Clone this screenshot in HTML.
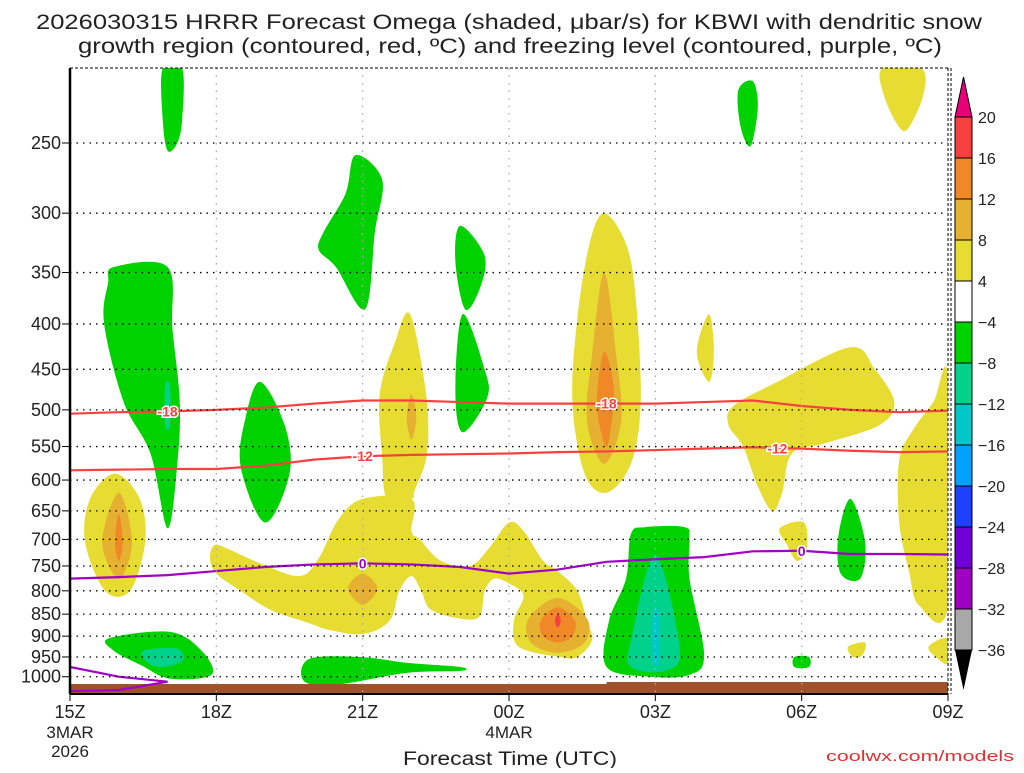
<!DOCTYPE html>
<html><head><meta charset="utf-8"><style>
body{margin:0;background:#fff;}
svg text{font-family:"Liberation Sans",sans-serif;}
</style></head><body>
<svg id="c" width="1024" height="768" xmlns="http://www.w3.org/2000/svg">
<text x="36" y="29" textLength="946" lengthAdjust="spacingAndGlyphs" font-size="21" fill="#222">2026030315 HRRR Forecast Omega (shaded, μbar/s) for KBWI with dendritic snow</text>
<text x="78" y="53" textLength="864" lengthAdjust="spacingAndGlyphs" font-size="21" fill="#222">growth region (contoured, red, ºC) and freezing level (contoured, purple, ºC)</text>
<g id="plot"></g>
<text x="403" y="765" textLength="214" lengthAdjust="spacingAndGlyphs" font-size="19" fill="#222">Forecast Time (UTC)</text>
<text x="826" y="761" textLength="188" lengthAdjust="spacingAndGlyphs" font-size="15" fill="#e03030">coolwx.com/models</text>
</svg>
<script>
const pressureTicks=[250,300,350,400,450,500,550,600,650,700,750,800,850,900,950,1000];
const timeTicks=[0,3,6,9,12,15,18];
const timeLabels=["15Z","18Z","21Z","00Z","03Z","06Z","09Z"];
const cbLevels=["20","16","12","8","4","−4","−8","−12","−16","−20","−24","−28","−32","−36"];
const cbColors=["#f84040","#f08828","#e6b030","#e6dc32","#ffffff","#00d200","#00d28c","#00c8c8","#00a0ff","#2040ff","#7000d8","#a000c0","#a8a8a8"];
const dgzMinus18=[505,503,502,500,497,492,488,488,490,492,492,492,492,490,488,495,500,503,501];
const dgzMinus12=[585,584,583,583,578,569,564,562,561,560,558,557,555,553,551,553,556,558,557];
const freezing0=[775,772,768,760,752,747,745,747,752,765,757,742,737,733,722,721,727,727,728];
const freezing0b=[[0,975],[1,1000],[2,1013],[1,1035],[0,1038]];
const greenAreas=[
[[1.9,206],[2.3,206],[2.3,235],[2.2,250],[2.0,255],[1.9,235]],
[[0.9,345],[2.0,345],[2.1,405],[2.25,490],[2.2,575],[2.0,680],[1.65,560],[1.1,490],[0.7,400],[0.78,360]],
[[3.9,465],[4.4,520],[4.5,590],[4.0,670],[3.5,580],[3.6,510]],
[[5.85,258],[6.4,275],[6.25,315],[6.05,385],[5.45,345],[5.1,330],[5.2,315],[5.65,285]],
[[8.0,310],[8.5,335],[8.4,365],[8.1,385],[7.9,340]],
[[8.05,390],[8.5,450],[8.55,485],[8.05,530],[7.9,475]],
[[13.7,218],[14.0,213],[14.1,228],[13.95,252],[13.75,240]],
[[16.0,630],[16.3,705],[16.2,775],[15.8,765],[15.75,695]],
[[14.85,950],[15.15,950],[15.15,975],[14.85,975]],
[[0.8,905],[2.05,890],[2.7,935],[2.9,995],[2.05,1005],[1.45,970],[0.9,935]],
[[4.9,955],[5.95,950],[6.95,965],[8.0,975],[8.0,985],[6.9,990],[5.5,1020],[4.8,1012]],
[[11.5,690],[11.8,678],[12.6,678],[12.7,700],[12.7,775],[13.0,945],[12.7,995],[11.9,1000],[11.0,975],[11.05,865],[11.4,775]]];
const tealAreas=[
[[1.95,470],[2.05,470],[2.05,520],[1.95,520]],
[[1.5,935],[2.2,930],[2.3,960],[1.9,975],[1.6,965]],
[[12.0,730],[12.5,930],[12.2,985],[11.5,975],[11.5,910]]];
const cyanAreas=[[[11.95,850],[12.08,850],[12.08,960],[11.95,960]]];
const yellowAreas=[
[[0.92,590],[1.43,630],[1.54,705],[1.23,800],[0.72,800],[0.31,705],[0.41,630]],
[[6.97,390],[7.3,480],[7.32,560],[7.07,615],[7.0,630],[6.5,630],[6.4,565],[6.35,480],[6.66,420]],
[[6.0,630],[7.0,630],[7.0,685],[7.17,700],[7.6,740],[8.2,750],[8.6,715],[9.0,670],[9.3,685],[9.7,740],[10.0,760],[10.4,800],[10.6,865],[10.7,910],[10.4,950],[10.05,950],[9.2,925],[9.1,865],[9.3,810],[9.0,785],[8.7,775],[8.5,800],[8.4,855],[8.0,860],[7.4,840],[7.2,800],[7.0,770],[6.75,800],[6.55,865],[6.0,895],[5.3,885],[4.9,870],[4.1,840],[3.5,800],[3.0,765],[2.87,735],[2.97,710],[3.3,720],[3.9,745],[4.7,770],[5.1,735],[5.5,665]],
[[10.95,300],[11.4,325],[11.6,375],[11.7,490],[11.5,575],[11.0,620],[10.55,590],[10.3,490],[10.4,395],[10.65,325]],
[[13.1,390],[13.2,430],[13.1,465],[12.85,430]],
[[13.6,495],[14.5,465],[16.0,425],[16.5,450],[16.9,490],[16.6,520],[15.5,545],[14.8,560],[14.6,620],[14.4,650],[14.1,610],[13.8,550],[13.5,520]],
[[18,460],[18,830],[17.4,830],[17.2,760],[17.0,670],[17.0,570],[17.3,525],[17.7,490]],
[[16.65,206],[17.45,206],[17.5,220],[17.2,240],[17.0,240],[16.7,222]],
[[14.55,680],[15.05,670],[15.1,720],[14.9,740],[14.7,710]],
[[15.95,925],[16.3,915],[16.25,945],[16.05,950]],
[[17.6,925],[18,905],[18,965],[17.8,955]]];
const goldAreas=[
[[1.0,620],[1.27,705],[1.0,775],[0.66,705]],
[[7.0,480],[7.1,510],[7.0,540],[6.9,510]],
[[6.0,765],[6.3,795],[6.0,830],[5.7,795]],
[[10.0,815],[10.6,860],[10.55,915],[10.0,940],[9.45,915],[9.4,860]],
[[10.95,350],[11.2,435],[11.3,515],[10.95,575],[10.6,515],[10.7,435]]];
const orangeAreas=[
[[1.0,655],[1.08,705],[1.0,740],[0.92,705]],
[[10.0,835],[10.35,865],[10.3,900],[10.0,915],[9.7,900],[9.65,865]],
[[10.95,430],[11.15,475],[11.05,540],[10.95,545],[10.8,490]]];
const redAreas=[[[10.0,850],[10.06,865],[10.0,880],[9.94,865]]];

const NS="http://www.w3.org/2000/svg";
const X0=70,X1=948,YT=68,YB=694;
function xs(h){return X0+h*(X1-X0)/18;}
function ys(p){return 143+Math.log(p/250)*385;}
const plot=document.getElementById('plot');
function mk(t,a,parent){const e=document.createElementNS(NS,t);for(const k in a)e.setAttribute(k,a[k]);(parent||plot).appendChild(e);return e;}
const defs=mk('defs',{});
const cp=mk('clipPath',{id:'clip'},defs);mk('rect',{x:X0,y:YT,width:X1-X0,height:YB-YT},cp);
const field=mk('g',{'clip-path':'url(#clip)'});
function smooth(pts){const P=pts.map(q=>[xs(q[0]),ys(q[1])]);const n=P.length;let d=`M${P[0][0]},${P[0][1]}`;
for(let i=0;i<n;i++){const p0=P[(i-1+n)%n],p1=P[i],p2=P[(i+1)%n],p3=P[(i+2)%n];
d+=`C${p1[0]+(p2[0]-p0[0])/6},${p1[1]+(p2[1]-p0[1])/6} ${p2[0]-(p3[0]-p1[0])/6},${p2[1]-(p3[1]-p1[1])/6} ${p2[0]},${p2[1]}`;}return d+'Z';}
function drawAreas(list,color,name){list.forEach(a=>{const e=mk('path',{d:smooth(a),fill:color},field);

});}
drawAreas(greenAreas,'#00d200','omega-area-green');
drawAreas(tealAreas,'#00d28c','omega-area-teal');
drawAreas(cyanAreas,'#00c8c8','omega-area-cyan');
drawAreas(yellowAreas,'#e6dc32','omega-area-yellow');
drawAreas(goldAreas,'#e6b030','omega-area-gold');
drawAreas(orangeAreas,'#f08828','omega-area-orange');
drawAreas(redAreas,'#f84040','omega-area-red');
pressureTicks.forEach(p=>{const y=ys(p);const g=mk('line',{x1:X0,x2:X1,y1:y,y2:y,stroke:'#000','stroke-width':1.3,'stroke-dasharray':'1.5 5'});


mk('line',{x1:X0-8,x2:X0,y1:y,y2:y,stroke:'#000','stroke-width':1});
const t=mk('text',{x:X0-9,y:y+6,'text-anchor':'end','font-size':18,fill:'#222'});t.textContent=p;

});
timeTicks.forEach((h,i)=>{const x=xs(h);if(i>0&&i<6){mk('line',{x1:x,x2:x,y1:YT,y2:YB,stroke:'#aaa','stroke-width':1.3,'stroke-dasharray':'1.5 6'});}
mk('line',{x1:x,x2:x,y1:YB,y2:YB+7,stroke:'#000'});
const t=mk('text',{x:x,y:718,'text-anchor':'middle','font-size':18,fill:'#222'});t.textContent=timeLabels[i];

});
[['3MAR',0,738],['2026',0,757],['4MAR',9,738]].forEach(s=>{const t=mk('text',{x:xs(s[1]),y:s[2],'text-anchor':'middle','font-size':17,fill:'#222'});t.textContent=s[0];

});
const gr=mk('path',{d:`M${X0},684 H${xs(11)} V682 H${X1} V${YB} H${X0}Z`,fill:'#a0522d'},field);


function line(vals,color,name){const d=vals.map((p,i)=>(i?'L':'M')+xs(i)+','+ys(p)).join('');const e=mk('path',{d:d,fill:'none',stroke:color,'stroke-width':2.2},field);

}
line(dgzMinus18,'#f84040','contour-minus18');
line(dgzMinus12,'#f84040','contour-minus12');
line(freezing0,'#a000c8','freezing-level-0');
const fb=mk('path',{d:freezing0b.map((q,i)=>(i?'L':'M')+xs(q[0])+','+ys(q[1])).join(''),fill:'none',stroke:'#a000c8','stroke-width':2.2},field);


function clabel(h,vals,txt,color){const x=xs(h),y=ys(vals[Math.round(h)]);
const t=mk('text',{x:x,y:y+5,'text-anchor':'middle','font-size':14,'font-weight':'bold',fill:color,stroke:'#fff','stroke-width':3,'paint-order':'stroke'});t.textContent=txt;

}
clabel(2,dgzMinus18,'-18','#f84040');clabel(11,dgzMinus18,'-18','#f84040');
clabel(6,dgzMinus12,'-12','#f84040');clabel(14.5,dgzMinus12,'-12','#f84040');
clabel(6,freezing0,'0','#a000c8');clabel(15,freezing0,'0','#a000c8');
mk('line',{x1:X0,x2:X0,y1:YT,y2:YB,stroke:'#000','stroke-width':2.5});
mk('line',{x1:X0,x2:X1,y1:YB,y2:YB,stroke:'#000','stroke-width':2});
mk('line',{x1:X0,x2:X1,y1:YT,y2:YT,stroke:'#000','stroke-width':1,'stroke-dasharray':'3 2'});
mk('line',{x1:X1,x2:X1,y1:YT,y2:YB,stroke:'#000','stroke-width':1,'stroke-dasharray':'3 2'});
mk('line',{x1:X1+3,x2:X1+3,y1:YT,y2:YB,stroke:'#000','stroke-width':1,'stroke-dasharray':'3 2'});
const cb=mk('g',{});
const CX=955,CW=17,CT=117,CH=41;
mk('path',{d:`M${CX},${CT} L${CX+CW/2},77 L${CX+CW},${CT}Z`,fill:'#e8007a',stroke:'#000'},cb);
cbColors.forEach((c,i)=>{mk('rect',{x:CX,y:CT+i*CH,width:CW,height:CH,fill:c,stroke:'#000','stroke-width':1},cb);});
mk('path',{d:`M${CX},${CT+13*CH} L${CX+CW/2},690 L${CX+CW},${CT+13*CH}Z`,fill:'#000'},cb);
cbLevels.forEach((l,i)=>{const t=mk('text',{x:CX+CW+6,y:CT+i*CH+6,'font-size':16,fill:'#222'},cb);t.textContent=l;

});
</script>
</body></html>
